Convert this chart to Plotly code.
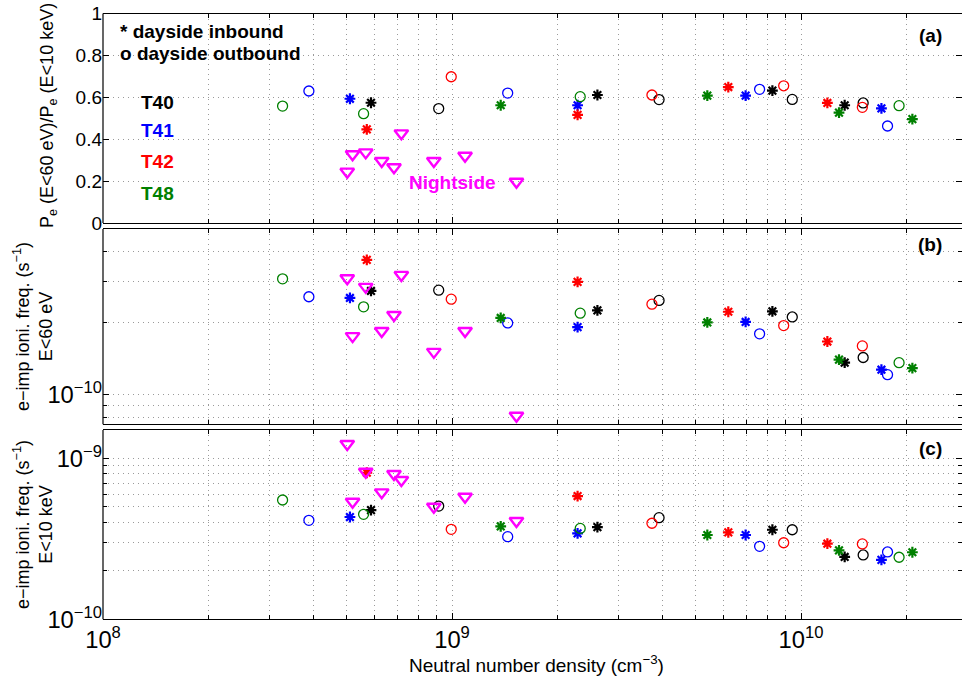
import plotly.graph_objects as go

# ---------------- data ----------------
# x: neutral number density (cm^-3); ratio: Pe(E<60eV)/Pe(E<10keV)
# nu60: e-impact ionisation freq. E<60 eV; nu10k: E<10 keV
x_T40_in = [5.86e8, 2.61e9, 8.28e9, 1.334e10]
ratio_T40_in = [0.574, 0.611, 0.632, 0.562]
nu60_T40_in = [2.73e-10, 2.26e-10, 2.24e-10, 1.36e-10]
nu10k_T40_in = [4.77e-10, 3.74e-10, 3.60e-10, 2.44e-10]

x_T40_out = [9.16e8, 3.92e9, 9.44e9, 1.507e10]
ratio_T40_out = [0.546, 0.589, 0.590, 0.573]
nu60_T40_out = [2.75e-10, 2.49e-10, 2.12e-10, 1.43e-10]
nu10k_T40_out = [5.05e-10, 4.28e-10, 3.60e-10, 2.51e-10]

x_T41_in = [5.10e8, 2.29e9, 6.94e9, 1.70e10]
ratio_T41_in = [0.593, 0.562, 0.608, 0.547]
nu60_T41_in = [2.55e-10, 1.92e-10, 2.02e-10, 1.27e-10]
nu10k_T41_in = [4.32e-10, 3.42e-10, 3.34e-10, 2.34e-10]

x_T41_out = [3.89e8, 1.444e9, 7.61e9, 1.77e10]
ratio_T41_out = [0.630, 0.620, 0.638, 0.463]
nu60_T41_out = [2.58e-10, 2.00e-10, 1.80e-10, 1.21e-10]
nu10k_T41_out = [4.12e-10, 3.26e-10, 2.84e-10, 2.62e-10]

x_T42_in = [5.70e8, 2.29e9, 6.19e9, 1.19e10]
ratio_T42_in = [0.447, 0.516, 0.649, 0.573]
nu60_T42_in = [3.69e-10, 2.98e-10, 2.23e-10, 1.67e-10]
nu10k_T42_in = [8.14e-10, 5.83e-10, 3.47e-10, 2.95e-10]

x_T42_out = [9.95e8, 3.74e9, 8.92e9, 1.499e10]
ratio_T42_out = [0.698, 0.611, 0.655, 0.552]
nu60_T42_out = [2.52e-10, 2.40e-10, 1.95e-10, 1.60e-10]
nu10k_T42_out = [3.62e-10, 3.95e-10, 2.99e-10, 2.94e-10]

x_T48_in = [1.379e9, 5.39e9, 1.285e10, 2.085e10]
ratio_T48_in = [0.562, 0.608, 0.527, 0.496]
nu60_T48_in = [2.10e-10, 2.01e-10, 1.40e-10, 1.29e-10]
nu10k_T48_in = [3.78e-10, 3.34e-10, 2.68e-10, 2.61e-10]

x_T48_out = [3.27e8, 5.58e8, 2.33e9, 1.91e10]
ratio_T48_out = [0.558, 0.522, 0.603, 0.560]
nu60_T48_out = [3.07e-10, 2.34e-10, 2.20e-10, 1.36e-10]
nu10k_T48_out = [5.51e-10, 4.49e-10, 3.67e-10, 2.43e-10]

x_night = [5.01e8, 5.19e8, 5.66e8, 6.29e8, 6.82e8, 7.16e8, 8.87e8, 1.09e9, 1.53e9]
ratio_night = [0.245, 0.328, 0.337, 0.296, 0.266, 0.428, 0.296, 0.321, 0.197]
nu60_night = [3.09e-10, 1.76e-10, 2.84e-10, 1.85e-10, 2.16e-10, 3.19e-10, 1.51e-10, 1.85e-10, 8.12e-11]
nu10k_night = [1.227e-9, 5.38e-10, 8.26e-10, 6.15e-10, 7.99e-10, 7.33e-10, 5.0e-10, 5.77e-10, 4.08e-10]

flyby_labels = ["T40", "T41", "T42", "T48"]
flyby_colors = ["#000000", "#0000ff", "#ff0000", "#008000"]
night_color = "#ff00ff"

series = [
    ("T40", "in", x_T40_in, ratio_T40_in, nu60_T40_in, nu10k_T40_in),
    ("T40", "out", x_T40_out, ratio_T40_out, nu60_T40_out, nu10k_T40_out),
    ("T41", "in", x_T41_in, ratio_T41_in, nu60_T41_in, nu10k_T41_in),
    ("T41", "out", x_T41_out, ratio_T41_out, nu60_T41_out, nu10k_T41_out),
    ("T42", "in", x_T42_in, ratio_T42_in, nu60_T42_in, nu10k_T42_in),
    ("T42", "out", x_T42_out, ratio_T42_out, nu60_T42_out, nu10k_T42_out),
    ("T48", "in", x_T48_in, ratio_T48_in, nu60_T48_in, nu10k_T48_in),
    ("T48", "out", x_T48_out, ratio_T48_out, nu60_T48_out, nu10k_T48_out),
]

# ---------------- figure ----------------
W, H = 962, 681
FONT = "Liberation Sans, Arial, Helvetica, sans-serif"


def px(x):
    return x / W


def py(y):
    return 1 - y / H


fig = go.Figure()
axes = [("x", "y"), ("x2", "y2"), ("x3", "y3")]

for name, kind, xs, r, n60, n10 in series:
    col = flyby_colors[flyby_labels.index(name)]
    if kind == "in":
        mk = dict(symbol="asterisk-open", size=9, line=dict(color=col, width=2.2), color=col)
    else:
        mk = dict(symbol="circle-open", size=10, line=dict(color=col, width=1.3), color=col)
    for (xa, ya), ys in zip(axes, [r, n60, n10]):
        fig.add_trace(go.Scatter(x=xs, y=ys, mode="markers", marker=mk,
                                 xaxis=xa, yaxis=ya, showlegend=False,
                                 hoverinfo="x+y"))

mk_n = dict(symbol="triangle-down-open", size=12, line=dict(color=night_color, width=2.4),
            color=night_color)
for (xa, ya), ys in zip(axes, [ratio_night, nu60_night, nu10k_night]):
    fig.add_trace(go.Scatter(x=x_night, y=ys, mode="markers", marker=mk_n,
                             xaxis=xa, yaxis=ya, showlegend=False))

GRID = "#9a9a9a"
GDASH = "1px,4px"
x_left, x_right = 103, 962
xrange_ = [8, 8 + (x_right - x_left) / 349.0]
TICKFONT = dict(family=FONT, size=19, color="black")

common_x = dict(type="log", range=xrange_, domain=[px(x_left), 1.0],
                showline=True, linecolor="black", linewidth=1.2, mirror="ticks",
                ticks="inside", ticklen=6, tickcolor="black", tickwidth=1,
                dtick=1, exponentformat="power", showexponent="all",
                showgrid=True, gridcolor=GRID, griddash=GDASH, gridwidth=1,
                zeroline=False, automargin=False,
                minor=dict(dtick="D1", ticks="inside", ticklen=4, tickcolor="black",
                           showgrid=True, gridcolor=GRID, griddash=GDASH, gridwidth=1),
                tickfont=TICKFONT)

common_y = dict(showline=False, mirror="ticks",
                ticks="inside", ticklen=6, tickcolor="black",
                showgrid=True, gridcolor=GRID, griddash=GDASH, gridwidth=1,
                zeroline=False, automargin=False,
                tickfont=TICKFONT)

ymin_minor = dict(dtick="D1", ticks="inside", ticklen=4, tickcolor="black",
                  showgrid=True, gridcolor=GRID, griddash=GDASH, gridwidth=1)

dom_a = [py(223), py(13.5)]
dom_b = [py(424.3), py(229)]
dom_c = [py(619.3), py(430)]

fig.update_layout(
    width=W, height=H, margin=dict(l=0, r=0, t=0, b=0),
    template="none", paper_bgcolor="white", plot_bgcolor="white",
    font=dict(family=FONT, color="black"),
    xaxis=dict(common_x, anchor="y", showticklabels=False),
    xaxis2=dict(common_x, anchor="y2", showticklabels=False, matches="x"),
    xaxis3=dict(common_x, anchor="y3", showticklabels=True, matches="x"),
    yaxis=dict(common_y, domain=dom_a, anchor="x", range=[0, 1], dtick=0.2,
               tickformat="~g"),
    yaxis2=dict(common_y, domain=dom_b, anchor="x2", type="log",
                range=[-10.1266, -9.3025], dtick=1, exponentformat="power",
                minor=ymin_minor),
    yaxis3=dict(common_y, domain=dom_c, anchor="x3", type="log",
                range=[-10, -8.8239], dtick=1, exponentformat="power",
                minor=ymin_minor),
)

# left frame lines of each panel
shapes = []
for dom in (dom_a, dom_b, dom_c):
    shapes.append(dict(type="line", xref="paper", yref="paper",
                       x0=px(x_left), x1=px(x_left), y0=dom[0], y1=dom[1],
                       line=dict(color="black", width=1.2)))
fig.update_layout(shapes=shapes)

ann = []


def text(x, y, s, size=19, color="black", bold=False, xanchor="center", angle=0):
    ann.append(dict(x=px(x), y=py(y), xref="paper", yref="paper", text=s,
                    showarrow=False, xanchor=xanchor, yanchor="middle",
                    textangle=angle,
                    font=dict(family=FONT, size=size, color=color,
                              weight="bold" if bold else "normal")))


text(118, 31, "* dayside inbound", bold=True, xanchor="left")
text(118, 54, "o dayside outbound", bold=True, xanchor="left")
for lab, col, yy in zip(flyby_labels, flyby_colors, [102, 131, 162, 193]):
    text(139, yy, lab, bold=True, color=col, xanchor="left")
text(452, 183, "Nightside", bold=True, color=night_color)
text(930, 36, "(a)", bold=True)
text(930, 244, "(b)", bold=True)
text(930, 448, "(c)", bold=True)

text(48, 116, "P<sub>e</sub> (E&lt;60 eV)/P<sub>e</sub> (E&lt;10 keV)", size=18, angle=-90)
text(33, 327, "e−imp ioni. freq. (s<sup>−1</sup>)<br>E&lt;60 eV", size=18, angle=-90)
text(33, 525, "e−imp ioni. freq. (s<sup>−1</sup>)<br>E&lt;10 keV", size=18, angle=-90)
text(536, 664, "Neutral number density (cm<sup>−3</sup>)", size=19)

fig.update_layout(annotations=ann)

fig.write_html("out.html")
